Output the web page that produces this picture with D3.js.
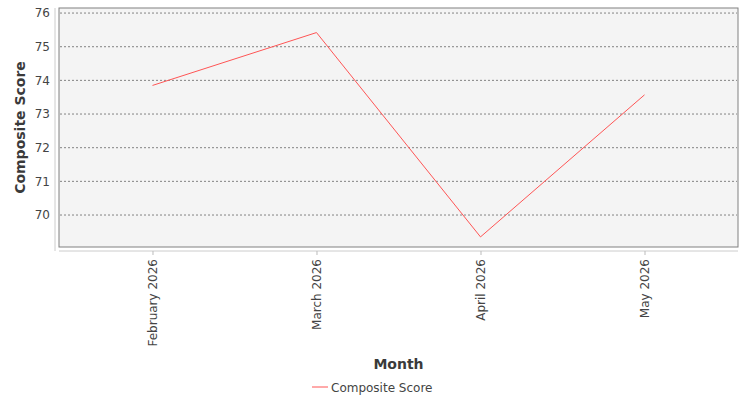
<!DOCTYPE html>
<html><head><meta charset="utf-8">
<script src="https://cdn.jsdelivr.net/npm/d3@7"></script>
<style>body{margin:0;background:#fff}text{font-family:"DejaVu Sans",sans-serif;fill:#444}</style>
</head><body><svg id="c" width="750" height="400"></svg>
<script>
const months = ["February 2026","March 2026","April 2026","May 2026"];
const scores = [73.85, 75.42, 69.35, 73.57];
const yTicks = [70,71,72,73,74,75,76];
const seriesName = "Composite Score";

const svg = d3.select("#c");
const L=59,R=738,T=8,B=247;
const x = d3.scalePoint().domain(months).range([L,R]).padding(0.57);
const y = d3.scaleLinear().domain([69.05,76.15]).range([B,T]);

svg.append("rect").attr("x",L).attr("y",T).attr("width",R-L).attr("height",B-T)
  .attr("fill","#f4f4f4").attr("stroke","#808080");
svg.append("g").selectAll("line").data(yTicks).join("line")
  .attr("x1",L+1).attr("x2",R-1).attr("y1",d=>y(d)).attr("y2",d=>y(d))
  .attr("stroke","#666").attr("stroke-width",0.8).attr("stroke-dasharray","2,2");

const ya = svg.append("g").attr("transform",`translate(${L-4},0)`)
  .call(d3.axisLeft(y).tickValues(yTicks).tickSize(0).tickPadding(5));
ya.select(".domain").attr("stroke","#ccc").attr("d",`M0,${T}V${B+4}`);
ya.selectAll("text").attr("font-size",12).style("fill","#444");

const xa = svg.append("g").attr("transform",`translate(0,${B+4})`)
  .call(d3.axisBottom(x).tickSize(4).tickSizeOuter(0));
xa.select(".domain").attr("stroke","#ccc").attr("d",`M${L},0H${R}`);
xa.selectAll("line").attr("stroke","#bbb");
xa.selectAll("text").attr("font-size",12).style("fill","#444")
  .attr("transform","rotate(-90)").attr("text-anchor","end")
  .attr("x",-8).attr("y",0).attr("dy","0.35em");

svg.append("path").datum(scores)
  .attr("d",d3.line().x((d,i)=>x(months[i])).y(d=>y(d)))
  .attr("fill","none").attr("stroke","#ff5555").attr("stroke-width",1);

svg.append("text").attr("transform",`translate(25,${(T+B)/2}) rotate(-90)`)
  .attr("text-anchor","middle").attr("font-size",14).attr("font-weight","bold").style("fill","#3a3a3a").text("Composite Score");
svg.append("text").attr("x",(L+R)/2).attr("y",369).attr("text-anchor","middle")
  .attr("font-size",14).attr("font-weight","bold").style("fill","#3a3a3a").text("Month");

svg.append("line").attr("x1",312).attr("x2",328).attr("y1",387).attr("y2",387).attr("stroke","#ff5555");
svg.append("text").attr("x",331).attr("y",391.5).attr("font-size",12).style("fill","#444").text(seriesName);
</script></body></html>
